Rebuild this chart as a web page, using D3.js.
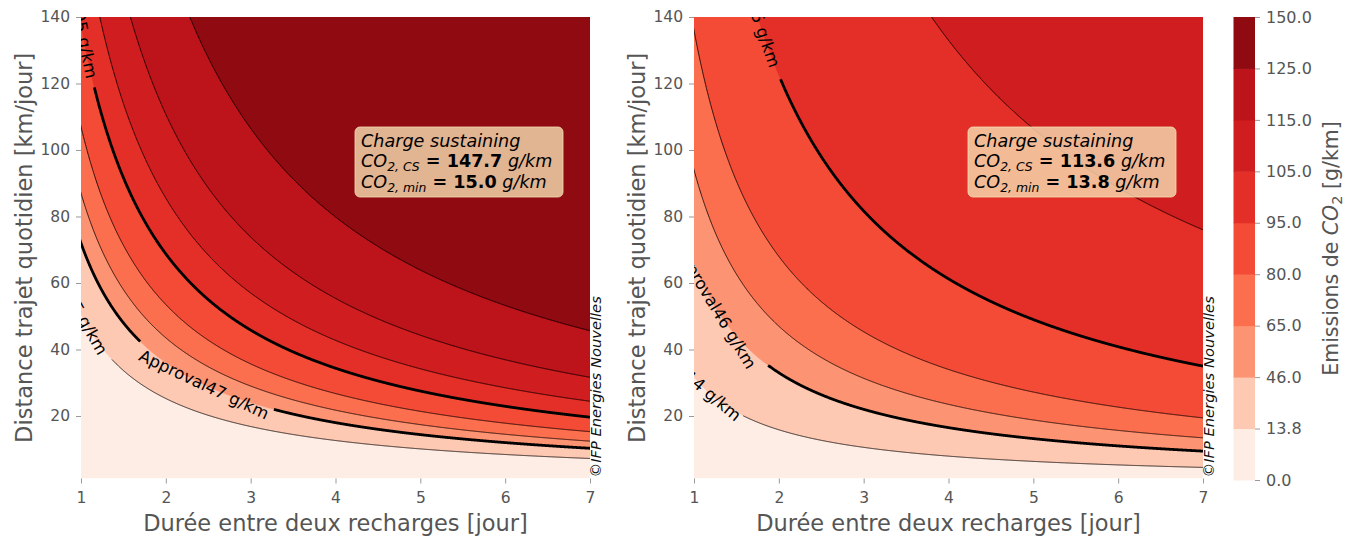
<!DOCTYPE html>
<html><head><meta charset="utf-8">
<script src="https://cdn.jsdelivr.net/npm/d3@7"></script>
<style>
body{margin:0;background:#fff}
svg{font-family:"DejaVu Sans",sans-serif}
text{white-space:pre}
</style>
</head><body>
<svg id="c" width="1352" height="540"></svg>
<script>
// ---------------- data ----------------
const dayTicks = [1, 2, 3, 4, 5, 6, 7];
const distTicks = [20, 40, 60, 80, 100, 120, 140];
const cbLevels = [0, 13.8, 46, 65, 80, 95, 105, 115, 125, 150];

// contour levels [g/km] and total km driven between recharges where each is reached
const leftLevels = [15, 47, 65, 80, 95, 105, 115, 125];
const leftKm     = [50.5, 72, 87, 107, 137.5, 171, 221.5, 319.5];
const rightLevels = [13.8, 46, 65, 80, 95, 105];
const rightKm     = [31.7, 66, 94, 136, 245, 532];

const leftCS = 147.7, leftMin = 15.0, leftApproval = 47;
const rightCS = 113.6, rightMin = 13.8, rightApproval = 46;
const targetLevel = 95;

// labelled contours: level, and [centre day, gap start day, gap end day]
const leftLabelLevels = [15, 47, 95];
const leftLabelDays = [[1.06, 0.8, 1.365], [2.45, 1.698, 3.274], [1.045, 0.8, 1.157]];
const rightLabelLevels = [13.8, 46, 95];
const rightLabelDays = [[1.22, 0.8, 1.58], [1.25, 0.8, 1.874], [1.82, 1.5, 2.02]];

// ---------------- style ----------------
const bandColors = ["#feede5","#fdc9b3","#fc9474","#fb6f4f","#f34b36","#e32f27","#d01d1f","#bc141a","#900a12"];
const grayText = "#555";
const tickCol = "#999";
const yTop = 17, yBot = 478.5;
const tickFont = 15.5, labelFont = 22.5, boxFont = 17.6;

const svg = d3.select("#c");
const fmt0 = d3.format(".0f");
const fmt1 = d3.format(".1f");

const panels = [
  {x0: 81, x1: 590, levels: leftLevels, km: leftKm, cs: leftCS, mn: leftMin, approval: leftApproval,
   labLevels: leftLabelLevels, labDays: leftLabelDays},
  {x0: 694, x1: 1203, levels: rightLevels, km: rightKm, cs: rightCS, mn: rightMin, approval: rightApproval,
   labLevels: rightLabelLevels, labDays: rightLabelDays}
];

const ns = d3.range(0.8, 7.0001, 0.004);

panels.forEach((p, pi) => {
  const x = d3.scaleLinear().domain([1, 7]).range([p.x0, p.x1]);
  const y = d3.scaleLinear().domain([1.2, 140]).range([yBot, yTop]);
  const clipId = "clip" + pi;
  svg.append("clipPath").attr("id", clipId).append("rect")
    .attr("x", p.x0).attr("y", yTop).attr("width", p.x1 - p.x0).attr("height", yBot - yTop);
  const g = svg.append("g").attr("clip-path", `url(#${clipId})`);

  // filled bands
  g.append("rect").attr("x", p.x0).attr("y", yTop).attr("width", p.x1 - p.x0).attr("height", yBot - yTop)
    .attr("fill", bandColors[0]);
  const area = k => d3.area()
    .x(n => x(n))
    .y0(yTop - 10)
    .y1(n => Math.max(y(k / n), yTop - 10))(ns);
  p.levels.forEach((lv, i) => {
    g.append("path").attr("d", area(p.km[i])).attr("fill", bandColors[i + 1]).attr("stroke", bandColors[i + 1]).attr("stroke-width", 0.3);
  });

  // contour lines
  const line = d3.line().x(d => x(d[0])).y(d => y(d[1]));
  p.levels.forEach((lv, i) => {
    const k = p.km[i];
    const thick = (lv === p.approval || lv === targetLevel);
    const li = p.labLevels.indexOf(lv);
    let segs;
    if (li >= 0) {
      const [nc, a, b] = p.labDays[li];
      segs = [ns.filter(n => n <= a).concat([a]), [b].concat(ns.filter(n => n >= b))];
    } else segs = [ns];
    segs.forEach(s => {
      if (s.length < 2) return;
      g.append("path").attr("d", line(s.map(n => [n, k / n])))
        .attr("fill", "none").attr("stroke", "#000")
        .attr("stroke-width", thick ? 2.8 : 0.8);
    });
    if (li >= 0) {
      const nc = p.labDays[li][0];
      const px = x(nc), py = y(k / nc);
      const dx = x(nc + 0.001) - x(nc - 0.001);
      const dy = y(k / (nc + 0.001)) - y(k / (nc - 0.001));
      const ang = Math.atan2(dy, dx) * 180 / Math.PI;
      const txt = (lv === p.approval ? "Approval" : "") + fmt0(lv) + " g/km";
      g.append("text").attr("transform", `translate(${px},${py}) rotate(${ang})`)
        .attr("text-anchor", "middle").attr("dominant-baseline", "central")
        .attr("font-size", 16.5).attr("fill", "#000").text(txt);
    }
  });

  // axes
  const ax = svg.append("g").attr("transform", `translate(0,${yBot})`)
    .call(d3.axisBottom(x).tickValues(dayTicks).tickFormat(d3.format("d")).tickSize(5).tickPadding(8));
  const ay = svg.append("g").attr("transform", `translate(${p.x0},0)`)
    .call(d3.axisLeft(y).tickValues(distTicks).tickFormat(d3.format("d")).tickSize(5).tickPadding(6));
  [ax, ay].forEach(a => {
    a.select(".domain").remove();
    a.selectAll(".tick line").attr("stroke", tickCol);
    a.selectAll(".tick text").attr("fill", grayText).attr("font-size", tickFont).attr("font-family", "DejaVu Sans");
  });

  svg.append("text").attr("x", (p.x0 + p.x1) / 2).attr("y", 531).attr("text-anchor", "middle")
    .attr("font-size", labelFont).attr("fill", grayText).text("Durée entre deux recharges [jour]");
  svg.append("text").attr("transform", `translate(${p.x0 - 49},${(yTop + yBot) / 2}) rotate(-90)`)
    .attr("text-anchor", "middle").attr("font-size", labelFont).attr("fill", grayText)
    .text("Distance trajet quotidien [km/jour]");

  // annotation box
  const bx = p.x0 + 274, by = yTop + 110;
  svg.append("rect").attr("x", bx).attr("y", by).attr("width", 208).attr("height", 70).attr("rx", 5)
    .attr("fill", "#f5deb3").attr("fill-opacity", 0.8).attr("stroke", "#f5deb3").attr("stroke-opacity", 0.8);
  const tx = bx + 6;
  svg.append("text").attr("x", tx).attr("y", by + 20).attr("font-size", boxFont).attr("font-style", "italic")
    .attr("fill", "#000").text("Charge sustaining");
  const rows = [["2, CS", p.cs], ["2, min", p.mn]];
  rows.forEach((r, ri) => {
    const t = svg.append("text").attr("x", tx).attr("y", by + 40.3 + ri * 20.5).attr("font-size", boxFont).attr("fill", "#000");
    t.append("tspan").attr("font-style", "italic").text("CO");
    t.append("tspan").attr("font-style", "italic").attr("font-size", 12.4).attr("dy", 4).text(r[0]);
    t.append("tspan").attr("dy", -4).attr("font-weight", "bold").text(" = " + fmt1(r[1]));
    t.append("tspan").attr("font-style", "italic").text(" g/km");
  });

  // watermark
  svg.append("text").attr("transform", `translate(${p.x1 + 11},${yBot - 1}) rotate(-90)`)
    .attr("font-size", 14.7).attr("font-style", "italic").attr("fill", "#111").text("©IFP Energies Nouvelles");
});

// colorbar
const cbX0 = 1233.5, cbX1 = 1255, cbTop = 17, cbBot = 480;
const cbY = d3.scaleLinear().domain([0, cbLevels.length - 1]).range([cbBot, cbTop]);
const cb = svg.append("g");
d3.range(cbLevels.length - 1).forEach(i => {
  cb.append("rect").attr("x", cbX0).attr("width", cbX1 - cbX0)
    .attr("y", cbY(i + 1)).attr("height", cbY(i) - cbY(i + 1) + 0.5).attr("fill", bandColors[i]);
});
const cax = svg.append("g").attr("transform", `translate(${cbX1},0)`)
  .call(d3.axisRight(cbY).tickValues(d3.range(cbLevels.length)).tickFormat(i => fmt1(cbLevels[i])).tickSize(5).tickPadding(6));
cax.select(".domain").remove();
cax.selectAll(".tick line").attr("stroke", tickCol);
cax.selectAll(".tick text").attr("fill", grayText).attr("font-size", 16).attr("font-family", "DejaVu Sans");

const cl = svg.append("text").attr("transform", `translate(1338,${(cbTop + cbBot) / 2}) rotate(-90)`)
  .attr("text-anchor", "middle").attr("font-size", 20.5).attr("fill", grayText);
cl.append("tspan").text("Emissions de ");
cl.append("tspan").attr("font-style", "italic").text("CO");
cl.append("tspan").attr("font-size", 14.5).attr("dy", 4).text("2");
cl.append("tspan").attr("dy", -4).text(" [g/km]");
</script>
</body></html>
